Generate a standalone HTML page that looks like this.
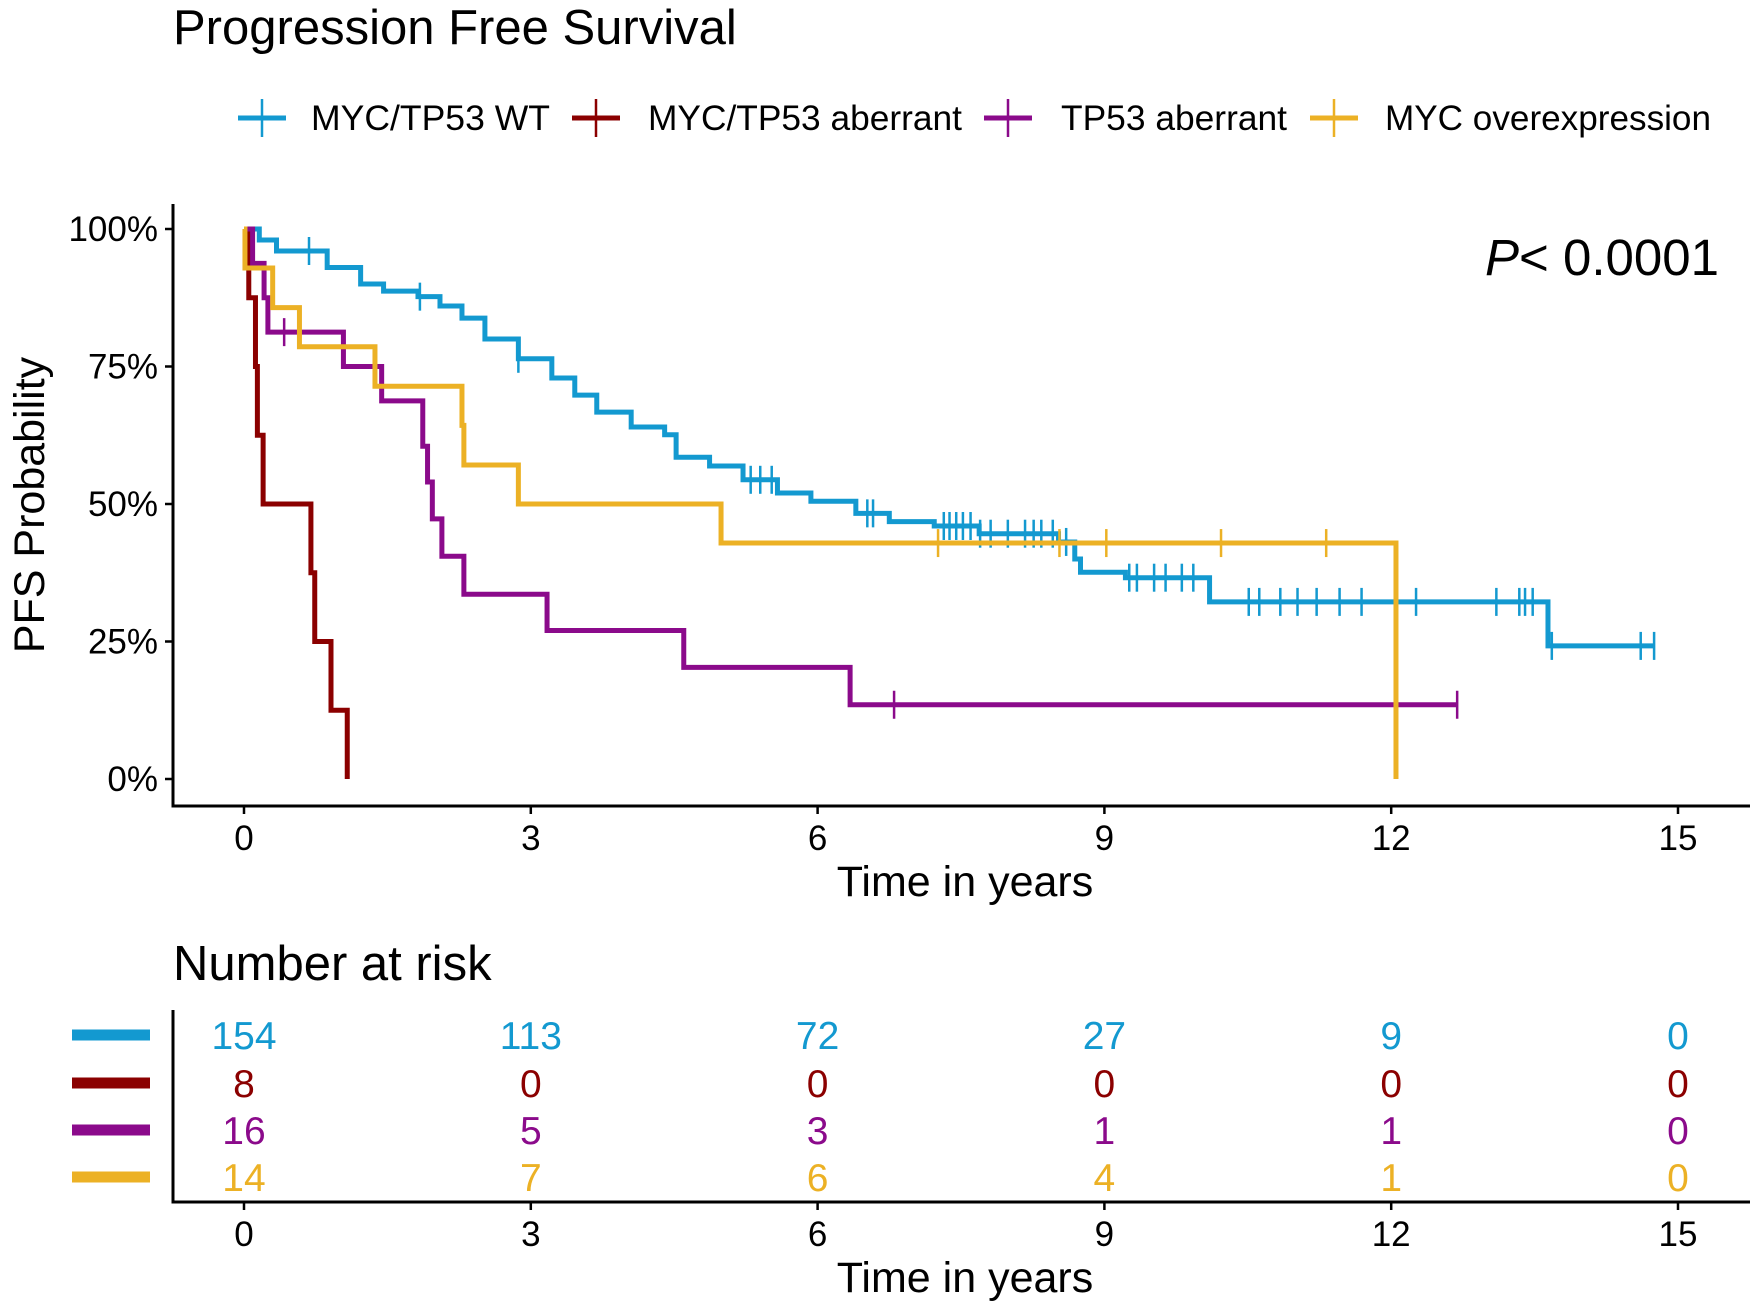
<!DOCTYPE html>
<html><head><meta charset="utf-8">
<style>
html,body{margin:0;padding:0;background:#fff;}
svg{display:block;font-family:"Liberation Sans",Arial,sans-serif;}
</style></head>
<body>
<svg id="chart" width="1764" height="1314" viewBox="0 0 1764 1314" xmlns="http://www.w3.org/2000/svg">
<text x="173" y="44" font-size="49" fill="#000">Progression Free Survival</text>
<g id="legend"></g>
<g id="plot"></g>
<text x="1719" y="275" font-size="51" text-anchor="end"><tspan font-style="italic">P</tspan>&lt; 0.0001</text>
<text transform="translate(44,505) rotate(-90)" font-size="43" text-anchor="middle">PFS Probability</text>
<text x="965" y="896" font-size="43" text-anchor="middle">Time in years</text>
<text x="173" y="980" font-size="49">Number at risk</text>
<g id="risk"></g>
<text x="965" y="1292" font-size="43" text-anchor="middle">Time in years</text>
</svg>
<script>
const seriesNames = ["MYC/TP53 WT","MYC/TP53 aberrant","TP53 aberrant","MYC overexpression"];
const seriesColors = ["#1399d0","#8b0000","#8b0a8b","#ecb125"];
const blueTimes = [0,0.16,0.34,0.87,1.22,1.46,1.82,2.05,2.28,2.52,2.87,3.22,3.46,3.69,4.05,4.4,4.52,4.87,5.22,5.58,5.93,6.4,6.75,7.22,7.69,8.52,8.69,8.75,9.22,10.1,13.64];
const blueSurv  = [100,98,96,93,90,88.7,87.7,86,83.8,80,76.4,72.9,69.8,66.7,64,62.6,58.5,56.9,54.4,52,50.5,48.3,46.8,46,44.6,43.1,40,37.6,36.6,32.2,24.2];
const blueCensor = [0.68,1.84,2.87,5.3,5.4,5.52,6.52,6.58,7.32,7.38,7.45,7.52,7.6,7.7,7.81,7.99,8.17,8.26,8.34,8.46,8.6,9.26,9.34,9.52,9.64,9.81,9.93,10.51,10.62,10.84,11.02,11.22,11.46,11.69,12.26,13.1,13.34,13.4,13.48,13.68,14.61,14.75];
const redTimes = [0,0.05,0.12,0.14,0.2,0.7,0.74,0.91,1.08];
const redSurv  = [100,87.5,75,62.5,50,37.5,25,12.5,0];
const redCensor = [];
const purpleTimes = [0,0.09,0.21,0.25,1.04,1.44,1.87,1.92,1.97,2.07,2.3,3.17,4.6,6.34];
const purpleSurv  = [100,93.75,87.5,81.25,75,68.75,60.5,54,47.3,40.5,33.6,27,20.3,13.5];
const purpleCensor = [0.42,6.8,12.69];
const yellowTimes = [0,0.01,0.3,0.58,1.37,2.28,2.3,2.87,4.99,12.05];
const yellowSurv  = [100,92.9,85.7,78.6,71.4,64.3,57.1,50,42.9,0];
const yellowCensor = [7.26,8.53,9.02,10.22,11.32];
const endTimes = [14.75,1.08,12.69,12.05];
const xTicks = [0,3,6,9,12,15];
const yTicks = [0,25,50,75,100];
const yTickLabels = ["0%","25%","50%","75%","100%"];
const riskCounts = [[154,113,72,27,9,0],[8,0,0,0,0,0],[16,5,3,1,1,0],[14,7,6,4,1,0]];

const NS="http://www.w3.org/2000/svg";
const X0=244, PXY=95.6, Y0=779, Y100=229;
function xs(t){return X0+t*PXY;}
function ys(p){return Y0-(Y0-Y100)*p/100;}
function mk(tag,attrs,parent){const e=document.createElementNS(NS,tag);for(const k in attrs)e.setAttribute(k,attrs[k]);parent.appendChild(e);return e;}
const plot=document.getElementById('plot');
let ax=mk('path',{d:`M173 204 V806 H1750`,stroke:'#000','stroke-width':3,fill:'none'},plot);


yTicks.forEach((v,i)=>{
  const tk=mk('line',{x1:165,x2:173,y1:ys(v),y2:ys(v),stroke:'#000','stroke-width':2.5},plot);
  
  
  const t=mk('text',{x:158,y:ys(v)+12,'font-size':35,'text-anchor':'end'},plot);t.textContent=yTickLabels[i];
  
  
});
xTicks.forEach(v=>{
  const tk=mk('line',{x1:xs(v),x2:xs(v),y1:806,y2:814,stroke:'#000','stroke-width':2.5},plot);
  
  
  const t=mk('text',{x:xs(v),y:850,'font-size':35,'text-anchor':'middle'},plot);t.textContent=v;
  
  
});
const all=[[blueTimes,blueSurv,blueCensor],[redTimes,redSurv,redCensor],[purpleTimes,purpleSurv,purpleCensor],[yellowTimes,yellowSurv,yellowCensor]];
[0,1,2,3].forEach(i=>{
  const [T,S,C]=all[i];
  let d=`M${xs(T[0])} ${ys(S[0])}`;
  for(let k=1;k<T.length;k++){d+=` H${xs(T[k])} V${ys(S[k])}`;}
  if(S[S.length-1]>0) d+=` H${xs(endTimes[i])}`;
  const p=mk('path',{d:d,stroke:seriesColors[i],'stroke-width':5,fill:'none'},plot);
  
  
  C.forEach(c=>{
    let s=S[0];for(let k=0;k<T.length;k++){if(T[k]<=c)s=S[k];}
    const m=mk('line',{x1:xs(c),x2:xs(c),y1:ys(s)-14,y2:ys(s)+14,stroke:seriesColors[i],'stroke-width':2.5},plot);
    
    
  });
});
const lg=document.getElementById('legend');
const legIconX=[238,572,984,1310], legTextX=[311,648,1061,1385], legW=[239,314,226,326];
seriesNames.forEach((n,i)=>{
  const g=mk('g',{},lg);
  
  
  mk('line',{x1:legIconX[i],x2:legIconX[i]+48,y1:118,y2:118,stroke:seriesColors[i],'stroke-width':5},g);
  mk('line',{x1:legIconX[i]+24,x2:legIconX[i]+24,y1:99,y2:137,stroke:seriesColors[i],'stroke-width':2.5},g);
  const t=mk('text',{x:legTextX[i],y:130,'font-size':35,textLength:legW[i],lengthAdjust:'spacingAndGlyphs'},g);t.textContent=n;
});
const rk=document.getElementById('risk');
let ra=mk('path',{d:'M173 1010 V1202 H1750',stroke:'#000','stroke-width':3,fill:'none'},rk);


const rowY=[1035,1083,1130,1177];
riskCounts.forEach((row,i)=>{
  const b=mk('line',{x1:72,x2:150,y1:rowY[i],y2:rowY[i],stroke:seriesColors[i],'stroke-width':11},rk);
  
  
  row.forEach((v,j)=>{
    const t=mk('text',{x:xs(xTicks[j]),y:rowY[i]+14,'font-size':39,'text-anchor':'middle',fill:seriesColors[i]},rk);
    t.textContent=v;
    
    
  });
});
xTicks.forEach(v=>{
  const tk=mk('line',{x1:xs(v),x2:xs(v),y1:1202,y2:1210,stroke:'#000','stroke-width':2.5},rk);
  
  
  const t=mk('text',{x:xs(v),y:1246,'font-size':35,'text-anchor':'middle'},rk);t.textContent=v;
  
  
});
</script>
</body></html>
